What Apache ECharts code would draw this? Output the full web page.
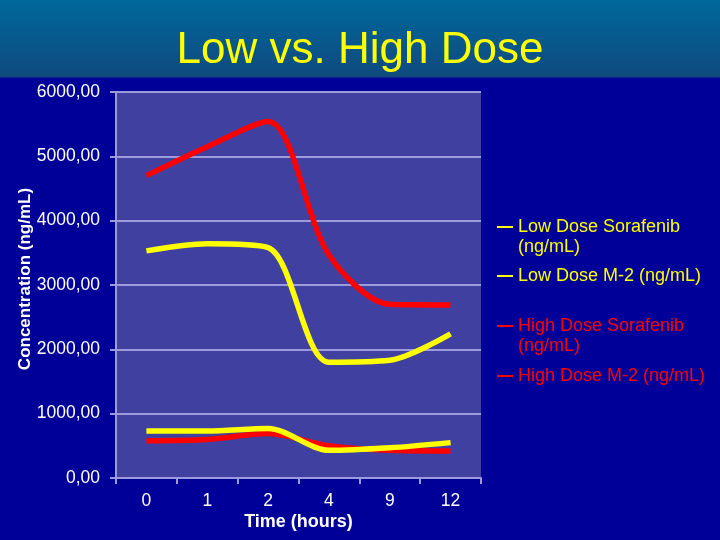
<!DOCTYPE html>
<html>
<head>
<meta charset="utf-8">
<script src="https://cdn.jsdelivr.net/npm/echarts@6/dist/echarts.min.js"></script>
<style>
  html, body { margin: 0; padding: 0; }
  #chart {
    width: 720px; height: 540px;
    background: linear-gradient(to bottom, #00689C 0px, #0F4A7E 77px, #000099 78px, #000099 100%);
  }
</style>
</head>
<body>
<div id="chart"></div>
<script>
const categories = ['0', '1', '2', '4', '9', '12'];
const seriesNames = ['Low Dose Sorafenib (ng/mL)', 'Low Dose M-2 (ng/mL)', 'High Dose Sorafenib (ng/mL)', 'High Dose M-2 (ng/mL)'];
const lowSorafenib = [3530, 3640, 3580, 1800, 1830, 2240];
const lowM2 = [730, 730, 770, 430, 470, 550];
const highSorafenib = [4700, 5150, 5540, 3470, 2700, 2690];
const highM2 = [580, 600, 690, 500, 430, 420];
const yTicks = [0, 1000, 2000, 3000, 4000, 5000, 6000];

const YELLOW = '#FFFF00';
const RED = '#FF0000';
const FONT = "'Liberation Sans', Arial, sans-serif";
const TWO_LINE_ICON = 'path://M0,0H16V2H0ZM0,22H0.01V21.99H0Z';

const chart = echarts.init(document.getElementById('chart'), null, { renderer: 'canvas' });

function mkLegend(name, top, color, twoLine) {
  return {
    data: [name],
    left: 497,
    top: top,
    orient: 'vertical',
    padding: 0,
    icon: twoLine ? TWO_LINE_ICON : 'rect',
    itemWidth: 16,
    itemHeight: twoLine ? 22 : 2,
    selectedMode: false,
    formatter: function (n) { return n.replace('Sorafenib ', 'Sorafenib\n'); },
    textStyle: {
      color: color,
      fontFamily: FONT,
      fontSize: 18,
      lineHeight: 20
    }
  };
}

const dataSets = [lowSorafenib, lowM2, highSorafenib, highM2];
const colors = [YELLOW, YELLOW, RED, RED];

chart.setOption({
  backgroundColor: 'transparent',
  animation: false,
  title: {
    text: 'Low vs. High Dose',
    left: 'center',
    top: 24,
    textStyle: { color: YELLOW, fontFamily: FONT, fontSize: 44, fontWeight: 'normal' }
  },
  legend: [
    mkLegend(seriesNames[0], 217, YELLOW, true),
    mkLegend(seriesNames[1], 266, YELLOW, false),
    mkLegend(seriesNames[2], 316, RED, true),
    mkLegend(seriesNames[3], 366, RED, false)
  ],
  grid: {
    left: 116, right: 239, top: 92, bottom: 62,
    show: true, backgroundColor: '#4040A0', borderWidth: 0
  },
  xAxis: {
    type: 'category',
    data: categories,
    boundaryGap: true,
    name: 'Time (hours)',
    nameLocation: 'middle',
    nameGap: 35,
    nameMoveOverlap: false,
    nameTextStyle: { color: '#FFFFFF', fontFamily: FONT, fontSize: 18, fontWeight: 'bold' },
    axisLine: { lineStyle: { color: '#9C9CDC', width: 2 } },
    axisTick: { show: true, length: 6, lineStyle: { color: '#9C9CDC', width: 2 } },
    axisLabel: { color: '#FFFFFF', fontFamily: FONT, fontSize: 17.5, margin: 14 },
    splitLine: { show: false }
  },
  yAxis: {
    type: 'value',
    min: yTicks[0],
    max: yTicks[yTicks.length - 1],
    interval: 1000,
    name: 'Concentration (ng/mL)',
    nameLocation: 'middle',
    nameGap: 82,
    nameMoveOverlap: false,
    nameTextStyle: { color: '#FFFFFF', fontFamily: FONT, fontSize: 17, fontWeight: 'bold', padding: [0, 0, 0, 12] },
    axisLine: { show: true, lineStyle: { color: '#9C9CDC', width: 2 } },
    axisTick: { show: true, length: 6, lineStyle: { color: '#9C9CDC', width: 2 } },
    axisLabel: {
      color: '#FFFFFF', fontFamily: FONT, fontSize: 17.5, margin: 16,
      formatter: function (v) { return v.toFixed(2).replace('.', ','); }
    },
    splitLine: { show: true, lineStyle: { color: '#9C9CDC', width: 2 } }
  },
  series: dataSets.map(function (d, i) {
    return {
      name: seriesNames[i],
      type: 'line',
      data: d,
      smooth: 0.3,
      showSymbol: false,
      symbol: 'none',
      itemStyle: { color: colors[i] },
      lineStyle: { color: colors[i], width: 5.5 },
      z: i < 2 ? 3 : 2
    };
  })
});
</script>
</body>
</html>
